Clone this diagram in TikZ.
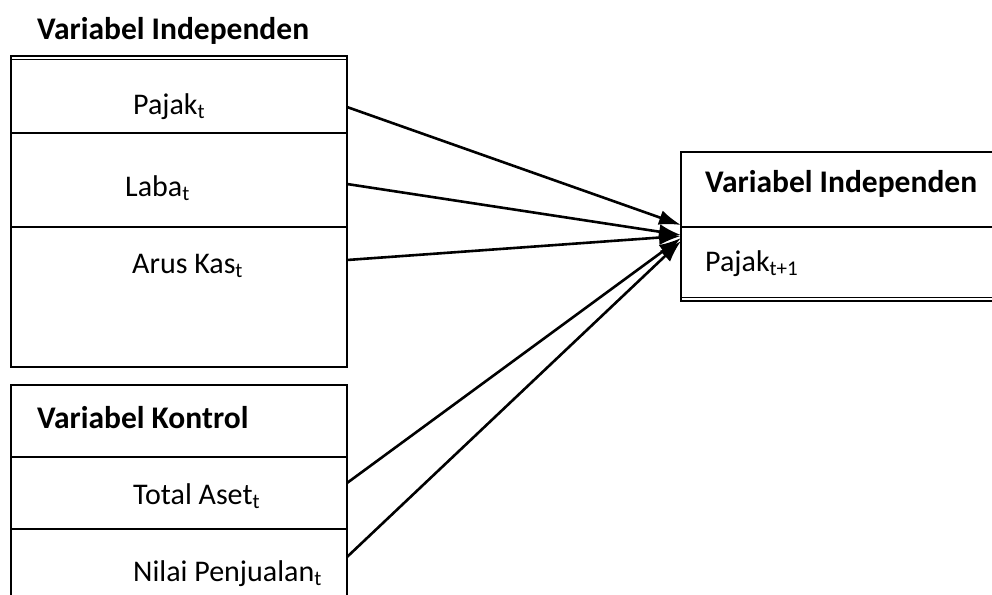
\documentclass[tikz,border=0pt]{standalone}
\usepackage{fontspec}
\setmainfont{Carlito}
\usetikzlibrary{arrows.meta}

\begin{document}
\begin{tikzpicture}[x=1pt,y=-1pt,
    frame/.style={line width=2pt},
    rule/.style={line width=1.2pt},
    link/.style={-{Latex[length=22pt,width=15pt]},line width=2.6pt},
    lbl/.style={anchor=base west,inner sep=0pt,font=\fontsize{30}{36}\selectfont},
    head/.style={anchor=base west,inner sep=0pt,font=\fontsize{31.5}{38}\selectfont\bfseries}]
\useasboundingbox (0,0) rectangle (992,594);

% kotak variabel independen
\draw[frame] (11,56) rectangle (347,367);
\draw[rule] (11,59.5) -- (347,59.5);
\draw[frame] (11,133) -- (347,133);
\draw[rule] (11,227) -- (347,227);

% kotak variabel kontrol
\draw[frame] (11,600) -- (11,385) -- (347,385) -- (347,600);
\draw[rule] (11,457) rectangle (347,529);

% kotak variabel dependen
\draw[frame] (995,152) -- (681,152) -- (681,301) -- (995,301);
\draw[rule] (681,227) -- (995,227);
\draw[rule] (681,297.5) -- (995,297.5);

% teks
\node[head] (judulind) at (37,40) {Variabel Independen};
\node[lbl] (pajak) at (133,114) {Pajak\textsubscript{t}};
\node[lbl] (laba) at (125,196) {Laba\textsubscript{t}};
\node[lbl] (arus) at (132,273) {Arus Kas\textsubscript{t}};
\node[head] (judulkontrol) at (37,428) {Variabel Kontrol};
\node[lbl] (aset) at (133,504) {Total Aset\textsubscript{t}};
\node[lbl] (jual) at (133,581) {Nilai Penjualan\textsubscript{t}};
\node[head] (juduldep) at (705,192) {Variabel Independen};
\node[lbl] (pajakdep) at (705,271) {Pajak\textsubscript{t+1}};

% titik ujung panah
\coordinate (pajakout) at (347,107);
\coordinate (labaout) at (347,184);
\coordinate (arusout) at (347,260);
\coordinate (asetout) at (347,483);
\coordinate (jualout) at (347,557);
\coordinate (tujuan) at (681,235);

\draw[link] (pajakout) -- ([yshift=10pt]tujuan);
\draw[link] (labaout) -- (tujuan);
\draw[link] (arusout) -- ([yshift=-1pt]tujuan);
\draw[link] (asetout) -- ([yshift=-3pt]tujuan);
\draw[link] (jualout) -- ([yshift=-6pt]tujuan);
\end{tikzpicture}
\end{document}
